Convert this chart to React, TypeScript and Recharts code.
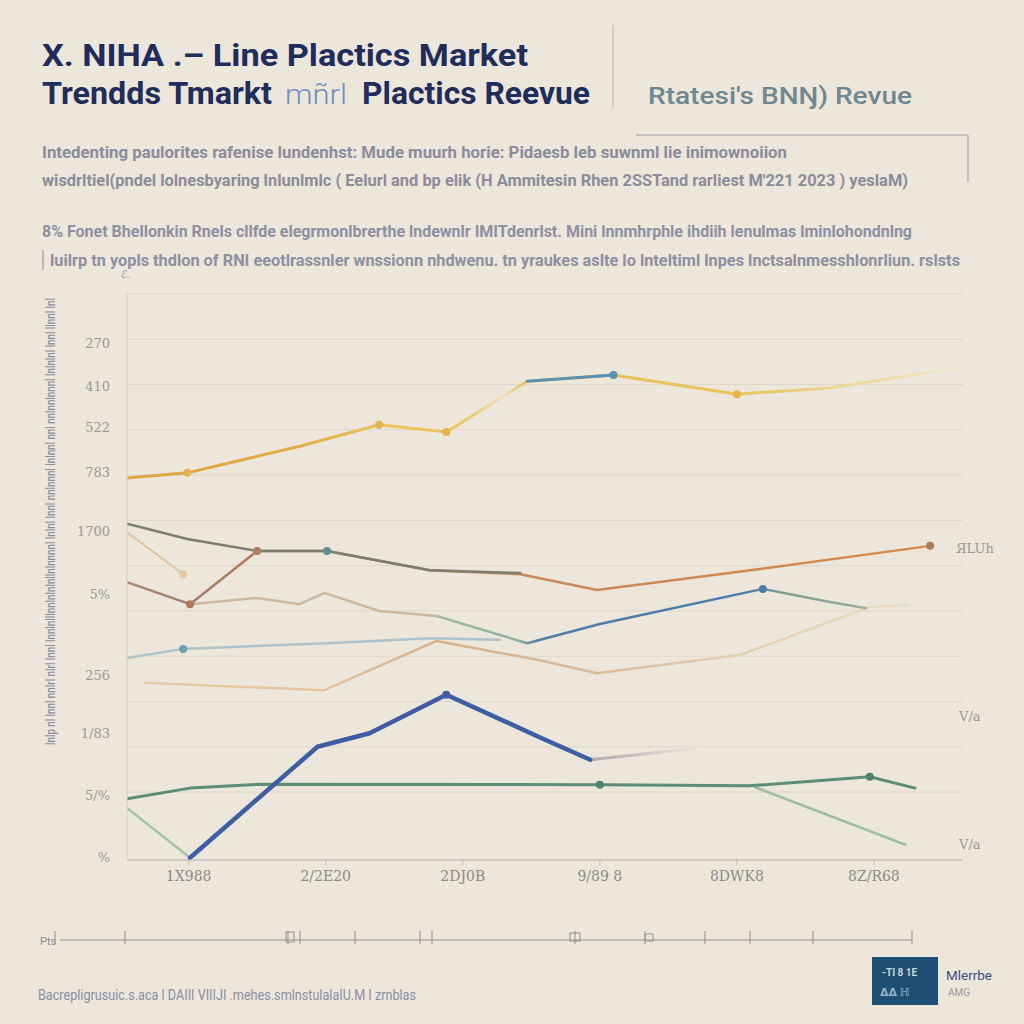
import { LineChart, Line, XAxis, YAxis, ReferenceLine } from 'recharts';

const BG = '#ECE6DB';

const YEARS = [0, 1, 2, 3, 4, 5];
const YEAR_LABELS = ['1X988', '2/2E20', '2DJ0B', '9/89 8', '8DWK8', '8Z/R68'];
const Y_TICKS = [0.5, 11.5, 22.4, 32.7, 47, 58, 68.4, 76.5, 83.6, 91.3];
const Y_LABELS = ['%', '5/%', '1/83', '256', '5%', '1700', '783', '522', '410', '270'];
const GRID_TICKS = [12, 20, 28, 36, 44, 52, 60, 68, 76, 84, 92, 100];

// series values (x in year units, y in index units)
const LIGHTBLUE_X = [-0.45, -0.04, 1.01, 1.76, 2.27];
const LIGHTBLUE_Y = [35.7, 37.3, 38.3, 39.2, 38.9];
const PEACH_X = [-0.32, 0.99, 1.81, 2.56, 2.98, 4.02, 4.97, 5.26];
const PEACH_Y = [31.3, 30.0, 38.7, 35.3, 33.0, 36.2, 44.7, 45.1];
const PALE_X = [-0.45, -0.04];
const PALE_Y = [57.9, 50.5];
const TAN_X = [0.01, 0.5, 0.81, 0.99, 1.39, 1.81, 2.47, 3.0, 4.19, 4.68, 4.94];
const TAN_Y = [45.2, 46.3, 45.2, 47.2, 44.0, 43.1, 38.3, 41.7, 47.9, 45.6, 44.5];
const BROWN_X = [-0.45, 0.01, 0.5, 1.01, 1.76, 2.42, 2.98, 4.17, 5.41];
const BROWN_Y = [49.1, 45.2, 54.6, 54.6, 51.2, 50.5, 47.7, 51.4, 55.5];
const SLATE_X = [-0.45, -0.01, 0.5, 1.01, 1.76, 2.42];
const SLATE_Y = [59.4, 56.7, 54.6, 54.6, 51.2, 50.7];
const GOLD_X = [-0.45, -0.01, 0.81, 1.39, 1.88, 2.47, 3.1, 4.0, 4.68, 5.59];
const GOLD_Y = [67.5, 68.4, 73.1, 76.9, 75.6, 84.6, 85.7, 82.3, 83.4, 86.9];
const BLUE_TOP_X = [2.47, 3.1];
const BLUE_TOP_Y = [84.6, 85.7];
const LGREEN_L_X = [-0.45, 0.01];
const LGREEN_L_Y = [9.2, 0.4];
const LGREEN_R_X = [4.13, 5.23];
const LGREEN_R_Y = [12.9, 2.7];
const GREEN_X = [-0.45, 0.01, 0.52, 3.0, 4.09, 4.97, 5.3];
const GREEN_Y = [10.8, 12.7, 13.4, 13.3, 13.1, 14.7, 12.7];
const FADE_X = [2.93, 3.73];
const FADE_Y = [17.7, 19.8];
const NAVY_X = [0.01, 0.94, 1.32, 1.88, 2.56, 2.93];
const NAVY_Y = [0.4, 20.0, 22.4, 29.2, 21.7, 17.7];

type Stop = [number, string];
type Series = {
  id: string;
  xs: number[];
  ys: number[];
  width: number;
  color?: string;
  stops?: Stop[];
  marks?: number[];
  markColor?: string;
};

const SERIES: Series[] = [
  { id: 'lightblue', xs: LIGHTBLUE_X, ys: LIGHTBLUE_Y, width: 2.5, color: '#AFC3CA', marks: [1], markColor: '#6C9FAC' },
  {
    id: 'peach', xs: PEACH_X, ys: PEACH_Y, width: 2.5,
    stops: [[-0.32, '#E6CCA8'], [1.0, '#E2C4A0'], [1.8, '#D6B28C'], [2.98, '#D9BC9C'], [4.02, '#E3D0B4'], [5.26, '#EADCC4']],
  },
  { id: 'pale', xs: PALE_X, ys: PALE_Y, width: 2, color: '#DDC6A6', marks: [1], markColor: '#E6C8A8' },
  {
    id: 'tan', xs: TAN_X, ys: TAN_Y, width: 2.5,
    stops: [[0.01, '#CBB9A0'], [1.7, '#CDBBA0'], [1.95, '#96BBA0'], [2.4, '#8EB49C'], [2.55, '#4F7DA8'], [4.1, '#4D7CA8'], [4.3, '#7E9C90'], [4.94, '#93AE9E']],
    marks: [8], markColor: '#4D7CA8',
  },
  {
    id: 'brown', xs: BROWN_X, ys: BROWN_Y, width: 2.5,
    stops: [[-0.45, '#A88A76'], [0.01, '#A07F70'], [0.5, '#B8785A'], [2.4, '#C98A5C'], [5.41, '#D48A4A']],
    marks: [1, 2, 8], markColor: '#B07A60',
  },
  { id: 'slate', xs: SLATE_X, ys: SLATE_Y, width: 2.5, color: '#7A7F6E', marks: [3], markColor: '#5F8C94' },
  {
    id: 'gold', xs: GOLD_X, ys: GOLD_Y, width: 3,
    stops: [[-0.45, '#DFA443'], [0.8, '#E2AD48'], [1.4, '#E8C35E'], [2.0, '#EBC76A'], [2.3, '#F0DFB8'], [2.47, '#E6C25C'], [4.0, '#E8C45A'], [4.8, '#EED79A'], [5.59, '#F2E6CC']],
    marks: [1, 3, 4, 7], markColor: '#E4B24E',
  },
  { id: 'bluetop', xs: BLUE_TOP_X, ys: BLUE_TOP_Y, width: 3, color: '#5C8FB4', marks: [1], markColor: '#5C8FB4' },
  { id: 'lgreenl', xs: LGREEN_L_X, ys: LGREEN_L_Y, width: 2.5, color: '#A3C4A9' },
  { id: 'lgreenr', xs: LGREEN_R_X, ys: LGREEN_R_Y, width: 2.5, color: '#9CBFA2' },
  { id: 'green', xs: GREEN_X, ys: GREEN_Y, width: 3, color: '#5C8D76', marks: [3, 5], markColor: '#4F8070' },
  { id: 'fade', xs: FADE_X, ys: FADE_Y, width: 3, stops: [[2.93, '#B8A6B0'], [3.73, BG]] },
  { id: 'navy', xs: NAVY_X, ys: NAVY_Y, width: 4.5, color: '#3E5EA3', marks: [3], markColor: '#3E5EA3' },
];

const STRIP_TICKS = [55, 125, 288, 300, 355, 420, 432, 575, 645, 705, 750, 813, 912];

function gradientStops(s: Series) {
  const min = Math.min(...s.xs);
  const max = Math.max(...s.xs);
  return (s.stops || []).map(([x, c], i) => (
    <stop key={i} offset={`${Math.max(0, Math.min(1, (x - min) / (max - min))) * 100}%`} stopColor={c} />
  ));
}

function makeDot(s: Series) {
  return (props: any) => {
    const { cx, cy, index } = props;
    if (!s.marks || !s.marks.includes(index)) return <g key={`${s.id}-n${index}`} />;
    return <circle key={`${s.id}-d${index}`} cx={cx} cy={cy} r={4} fill={s.markColor} stroke="none" />;
  };
}

const HEAD = 'Roboto, "DejaVu Sans", sans-serif';

export default function App() {
  return (
    <div style={{ position: 'absolute', left: 0, top: 0, width: 1024, height: 1024, background: BG, overflow: 'hidden' }}>
      <div style={{ position: 'absolute', left: 0, top: 280 }}>
        <LineChart width={1024} height={610} margin={{ top: 14, right: 61, bottom: 0, left: 0 }}>
          <defs>
            {SERIES.filter((s) => s.stops).map((s) => (
              <linearGradient key={s.id} id={`g-${s.id}`} x1="0" y1="0" x2="1" y2="0">
                {gradientStops(s)}
              </linearGradient>
            ))}
          </defs>
          <XAxis
            dataKey="x"
            type="number"
            domain={[-0.45, 5.65]}
            ticks={YEARS}
            tickFormatter={(v: number) => YEAR_LABELS[v] ?? ''}
            allowDataOverflow
            height={30}
            tickSize={5}
            tickMargin={6}
            tick={{ fontSize: 14, fill: '#8E8A86', fontFamily: '"DejaVu Serif", serif' }}
            tickLine={{ stroke: '#C2BDB5' }}
            axisLine={{ stroke: '#B8B3AC' }}
          />
          <YAxis
            yAxisId="main"
            orientation="left"
            type="number"
            domain={[0, 100]}
            ticks={Y_TICKS}
            tickFormatter={(v: number) => Y_LABELS[Y_TICKS.indexOf(v)] ?? ''}
            width={127}
            tickSize={0}
            tickMargin={17}
            tickLine={false}
            tick={{ fontSize: 13, fill: '#9C9893', fontFamily: '"DejaVu Serif", serif' }}
            axisLine={{ stroke: '#DAD3C8' }}
          />
          {GRID_TICKS.map((v) => (
            <ReferenceLine key={`grid-${v}`} yAxisId="main" y={v} stroke="#DFD7C9" strokeWidth={1} />
          ))}
          {SERIES.map((s) => (
            <Line
              key={s.id}
              yAxisId="main"
              data={s.xs.map((x, i) => ({ x, y: s.ys[i] }))}
              dataKey="y"
              type="linear"
              stroke={s.stops ? `url(#g-${s.id})` : s.color}
              strokeWidth={s.width}
              strokeLinecap="round"
              strokeLinejoin="round"
              dot={makeDot(s)}
              activeDot={false}
              isAnimationActive={false}
            />
          ))}
        </LineChart>
      </div>

      <svg width={1024} height={1024} style={{ position: 'absolute', left: 0, top: 0, pointerEvents: 'none' }}>
        <g fontFamily={HEAD}>
          <text x={42} y={66} fontSize={31} fontWeight={700} fill="#1F2D5C" textLength={486} lengthAdjust="spacingAndGlyphs">
            X. NIHA .– Line Plactics Market
          </text>
          <text x={42} y={104} fontSize={31} fontWeight={700} fill="#1F2D5C" textLength={230} lengthAdjust="spacingAndGlyphs">
            Trendds Tmarkt
          </text>
          <text x={285} y={104} fontSize={28} fontWeight={300} fill="#6F8FC0" textLength={62} lengthAdjust="spacingAndGlyphs">
            mñrl
          </text>
          <text x={362} y={104} fontSize={31} fontWeight={700} fill="#1F2D5C" textLength={228} lengthAdjust="spacingAndGlyphs">
            Plactics Reevue
          </text>
          <line x1={613} y1={25} x2={613} y2={107} stroke="#C9C4BB" strokeWidth={1.5} />
          <text x={648} y={104} fontSize={24} fontWeight={500} fill="#6F8790" textLength={264} lengthAdjust="spacingAndGlyphs">
            Rtatesi's BNŊ) Revue
          </text>

          <line x1={636} y1={135} x2={968} y2={135} stroke="#B9B6B6" strokeWidth={1.5} />
          <line x1={968} y1={135} x2={968} y2={182} stroke="#B9B6B6" strokeWidth={1.5} />
          <text x={42} y={158} fontSize={17} fontWeight={700} fill="#8B8C9C" textLength={745} lengthAdjust="spacingAndGlyphs">
            Intedenting paulorites rafenise lundenhst:  Mude muurh horie:  Pidaesb leb suwnml lie inimownoiion
          </text>
          <text x={42} y={186} fontSize={17} fontWeight={700} fill="#8B8C9C" textLength={866} lengthAdjust="spacingAndGlyphs">
            wisdrltiel(pndel lolnesbyaring lnlunlmlc ( Eelurl and bp elik  (H Ammitesin Rhen 2SSTand rarliest M'221 2023 ) yeslaM)
          </text>

          <text x={42} y={237} fontSize={17} fontWeight={700} fill="#8E90A2" textLength={870} lengthAdjust="spacingAndGlyphs">
            8% Fonet Bhellonkin  Rnels cllfde elegrmonlbrerthe lndewnlr  IMITdenrlst.  Mini lnnmhrphle ihdiih  lenulmas lminlohondnlng
          </text>
          <line x1={43} y1={250} x2={43} y2={270} stroke="#A6A6B0" strokeWidth={1.5} />
          <text x={50} y={266} fontSize={17} fontWeight={700} fill="#8E90A2" textLength={910} lengthAdjust="spacingAndGlyphs">
            luilrp tn yopls thdlon of RNI eeotlrassnler wnssionn nhdwenu. tn yraukes aslte lo lnteltiml lnpes lnctsalnmesshlonrliun. rslsts
          </text>
          <text x={121} y={278} fontSize={11} fill="#9A9AA6">ℰ.</text>

          <text transform="translate(55,745) rotate(-90)" fontSize={12} fontWeight={500} fill="#8A8EA2" textLength={447} lengthAdjust="spacingAndGlyphs">
            lnlp nl lnnl  nnlrl nlrl lnnl lnnlnlllnnlnlnlnllnlnnnnl lnlnl lnnl nnlnnnl lnlnnl nnl nnlnnlnnnl lnlnlnl lnnl llnnl lnl
          </text>

          <text x={956} y={553} fontSize={13} fill="#9A9792" fontFamily='"DejaVu Serif", serif'>ЯLUh</text>
          <text x={959} y={721} fontSize={13} fill="#9A9792" fontFamily='"DejaVu Serif", serif'>V/a</text>
          <text x={959} y={849} fontSize={13} fill="#9A9792" fontFamily='"DejaVu Serif", serif'>V/a</text>

          <text x={40} y={945} fontSize={11} fill="#8E8E96">Pts</text>
          <line x1={60} y1={940} x2={912} y2={940} stroke="#8F8F92" strokeWidth={1.2} />
          {STRIP_TICKS.map((x) => (
            <line key={x} x1={x} y1={931} x2={x} y2={944} stroke="#8F8F92" strokeWidth={1} />
          ))}
          <rect x={286} y={932} width={8} height={10} fill="none" stroke="#8F8F92" />
          <rect x={570} y={933} width={10} height={8} fill="none" stroke="#8F8F92" />
          <rect x={645} y={934} width={8} height={7} fill="none" stroke="#8F8F92" />

          <text x={38} y={1000} fontSize={14} fill="#8A8EA5" textLength={378} lengthAdjust="spacingAndGlyphs">
            Bacrepligrusuic.s.aca l DAIII VIIIJI .mehes.smlnstulalaIU.M I zrnblas
          </text>
          <rect x={872} y={957} width={66} height={48} fill="#1E4F72" />
          <text x={882} y={976} fontSize={10} fill="#C9D6E2" fontWeight={700}>-TI 8 1E</text>
          <text x={880} y={996} fontSize={11} fill="#8FB0C8" fontWeight={700}>ᐃᐃ ℍ</text>
          <text x={946} y={980} fontSize={13} fill="#3A4E80" textLength={46} lengthAdjust="spacingAndGlyphs">Mlerrbe</text>
          <text x={948} y={996} fontSize={10} fill="#9A9AA2">AMG</text>
        </g>
      </svg>
    </div>
  );
}
